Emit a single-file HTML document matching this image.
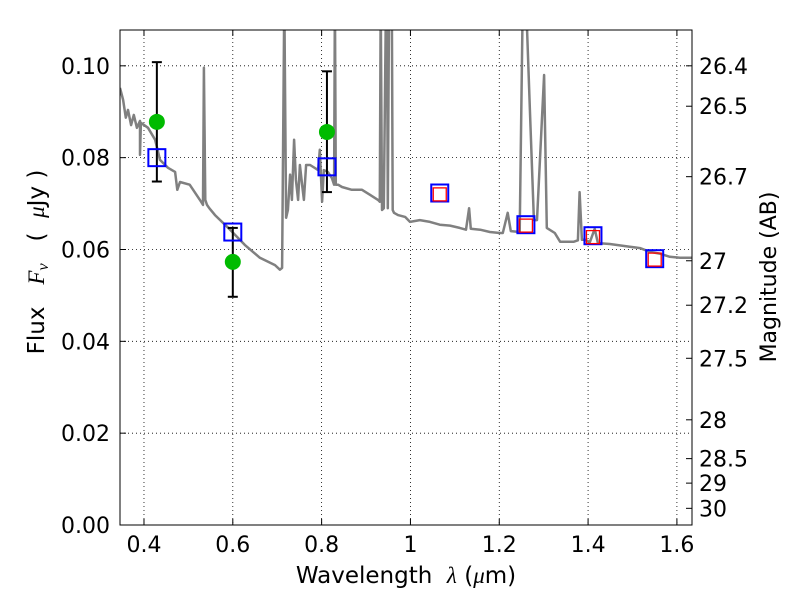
<!DOCTYPE html>
<html><head><meta charset="utf-8"><style>
html,body{margin:0;padding:0;background:#fff;}
svg{display:block;font-family:"DejaVu Sans","Liberation Sans",sans-serif;}
</style></head><body>
<svg id="chart" width="800" height="600" viewBox="0 0 800 600">
<defs><clipPath id="clip"><rect x="120" y="30" width="572" height="495"/></clipPath></defs>
<g id="grid"></g>
<g id="spec" clip-path="url(#clip)"></g>
<g id="marks"></g>
<rect x="120" y="30" width="572" height="495" fill="none" stroke="#000" stroke-width="1"/>
<g id="axes"></g>
<text x="406" y="583" font-size="23" text-anchor="middle" xml:space="preserve">Wavelength  <tspan font-family="Liberation Serif" font-style="italic">λ</tspan> (<tspan font-family="Liberation Serif" font-style="italic">μ</tspan>m)</text>
<text transform="translate(44,262) rotate(-90)" font-size="23" text-anchor="middle" xml:space="preserve">Flux   <tspan font-family="Liberation Serif" font-style="italic">F</tspan><tspan font-family="Liberation Serif" font-style="italic" font-size="16" dy="4">ν</tspan><tspan dy="-4">   (  </tspan><tspan font-family="Liberation Serif" font-style="italic">μ</tspan>Jy )</text>
<text transform="translate(776,277) rotate(-90)" font-size="22" text-anchor="middle">Magnitude (AB)</text>
</svg>
<script>
const specLam=[0.346,0.353,0.359,0.364,0.371,0.377,0.384,0.391,0.391,0.393,0.409,0.425,0.436,0.454,0.470,0.475,0.481,0.503,0.526,0.533,0.535,0.538,0.542,0.547,0.560,0.594,0.627,0.661,0.695,0.706,0.711,0.716,0.720,0.724,0.729,0.733,0.738,0.742,0.747,0.751,0.756,0.760,0.765,0.774,0.792,0.796,0.801,0.805,0.814,0.823,0.828,0.830,0.832,0.837,0.846,0.868,0.891,0.909,0.927,0.931,0.933,0.936,0.940,0.945,0.947,0.949,0.952,0.958,0.960,0.963,0.972,0.988,0.999,1.021,1.044,1.066,1.089,1.111,1.125,1.132,1.136,1.157,1.179,1.201,1.208,1.219,1.226,1.246,1.253,1.260,1.269,1.278,1.285,1.301,1.307,1.325,1.337,1.368,1.377,1.381,1.386,1.393,1.404,1.415,1.422,1.449,1.494,1.517,1.539,1.561,1.584,1.607,1.634];
const specFlux=[0.0952,0.0926,0.0887,0.0904,0.0871,0.0893,0.0865,0.0880,0.0806,0.0876,0.0865,0.0839,0.0795,0.0778,0.0769,0.0730,0.0747,0.0741,0.0708,0.0697,0.0996,0.0708,0.0697,0.0690,0.0675,0.0643,0.0610,0.0582,0.0566,0.0556,0.0560,0.1150,0.0669,0.0686,0.0763,0.0708,0.0839,0.0752,0.0708,0.0784,0.0741,0.0708,0.0784,0.0784,0.0773,0.0817,0.0704,0.0773,0.0769,0.0756,0.0741,0.1150,0.0741,0.0741,0.0736,0.0730,0.0730,0.0719,0.0708,0.0704,0.1150,0.0686,0.0690,0.1150,0.1150,0.0690,0.1150,0.1150,0.0686,0.0680,0.0675,0.0671,0.0660,0.0664,0.0660,0.0654,0.0652,0.0647,0.0643,0.0690,0.0645,0.0643,0.0638,0.0636,0.0636,0.0680,0.0640,0.0638,0.1150,0.1150,0.0904,0.0664,0.0664,0.0980,0.0647,0.0636,0.0617,0.0617,0.0620,0.0725,0.0621,0.0621,0.0616,0.0645,0.0614,0.0612,0.0606,0.0603,0.0595,0.0591,0.0584,0.0582,0.0582];
const obsLam=[0.429,0.600,0.812];
const obsFlux=[0.0878,0.0573,0.0856];
const obsLo=[0.0748,0.0497,0.0725];
const obsHi=[0.1008,0.0647,0.0988];
const modLam=[0.429,0.600,0.812,1.066,1.260,1.411,1.550];
const modFlux=[0.0800,0.0638,0.0780,0.0723,0.0654,0.0630,0.0580];
const nirLam=[1.066,1.260,1.411,1.550];
const nirFlux=[0.0720,0.0652,0.0627,0.0578];
const xTicks=[0.4,0.6,0.8,1.0,1.2,1.4,1.6];
const xTickLabels=["0.4","0.6","0.8","1","1.2","1.4","1.6"];
const yTicks=[0,0.02,0.04,0.06,0.08,0.10];
const yTickLabels=["0.00","0.02","0.04","0.06","0.08","0.10"];
const magTicks=[26.4,26.5,26.7,27,27.2,27.5,28,28.5,29,30];
const magLabels=["26.4","26.5","26.7","27","27.2","27.5","28","28.5","29","30"];

const X0=120,X1=692,Y0=525,Y1=30,LMIN=0.346,LMAX=1.634,FMIN=0,FMAX=0.1078;
const sx=v=>X0+(v-LMIN)/(LMAX-LMIN)*(X1-X0);
const sy=v=>Y0-(v-FMIN)/(FMAX-FMIN)*(Y0-Y1);
const NS="http://www.w3.org/2000/svg";
function mk(tag,attrs,parent){const e=document.createElementNS(NS,tag);for(const k in attrs)e.setAttribute(k,attrs[k]);parent.appendChild(e);return e;}
const grid=document.getElementById('grid'),axes=document.getElementById('axes'),spec=document.getElementById('spec'),marks=document.getElementById('marks');

xTicks.forEach((t,i)=>{const x=sx(t);
 const g=mk('line',{x1:x,x2:x,y1:Y1,y2:Y0,stroke:'#000','stroke-width':0.8,'stroke-dasharray':'1,3'},grid);
 
 
 mk('line',{x1:x,x2:x,y1:Y0,y2:Y0-6,stroke:'#000'},axes);
 mk('line',{x1:x,x2:x,y1:Y1,y2:Y1+6,stroke:'#000'},axes);
 const tx=mk('text',{x:x,y:Y0+27,'font-size':22,'text-anchor':'middle'},axes);tx.textContent=xTickLabels[i];
 
 
});
yTicks.forEach((t,i)=>{const y=sy(t);
 const g=mk('line',{x1:X0,x2:X1,y1:y,y2:y,stroke:'#000','stroke-width':0.8,'stroke-dasharray':'1,3'},grid);
 
 
 mk('line',{x1:X0,x2:X0+6,y1:y,y2:y,stroke:'#000'},axes);
 const tx=mk('text',{x:X0-10,y:y+8,'font-size':22,'text-anchor':'end'},axes);tx.textContent=yTickLabels[i];
 
 
});
magTicks.forEach((m,i)=>{const f=Math.pow(10,(23.9-m)/2.5);const y=sy(f);
 mk('line',{x1:X1-6,x2:X1,y1:y,y2:y,stroke:'#000'},axes);
 const tx=mk('text',{x:X1+7,y:y+8,'font-size':22},axes);tx.textContent=magLabels[i];
 
 
});

const pts=specLam.map((l,i)=>sx(l).toFixed(1)+','+sy(specFlux[i]).toFixed(1)).join(' ');
const pl=mk('polyline',{points:pts,fill:'none',stroke:'#808080','stroke-width':2.5,'stroke-linejoin':'round'},spec);



obsLam.forEach((l,i)=>{const x=sx(l);
 const e=mk('g',{},marks);
 
 
 mk('line',{x1:x,x2:x,y1:sy(obsLo[i]),y2:sy(obsHi[i]),stroke:'#000','stroke-width':2},e);
 mk('line',{x1:x-5,x2:x+5,y1:sy(obsLo[i]),y2:sy(obsLo[i]),stroke:'#000','stroke-width':2},e);
 mk('line',{x1:x-5,x2:x+5,y1:sy(obsHi[i]),y2:sy(obsHi[i]),stroke:'#000','stroke-width':2},e);
});
modLam.forEach((l,i)=>{
 const r=mk('rect',{x:sx(l)-8.5,y:sy(modFlux[i])-8.5,width:17,height:17,fill:'none',stroke:'#0000ff','stroke-width':2},marks);
 
 
});
nirLam.forEach((l,i)=>{
 const r=mk('rect',{x:sx(l)-6.5,y:sy(nirFlux[i])-6.5,width:13,height:13,fill:'none',stroke:'#ff0000','stroke-width':1.3},marks);
 
 
});
obsLam.forEach((l,i)=>{
 const c=mk('circle',{cx:sx(l),cy:sy(obsFlux[i]),r:8,fill:'#00bb00'},marks);
 
 
});
</script>
</body></html>
